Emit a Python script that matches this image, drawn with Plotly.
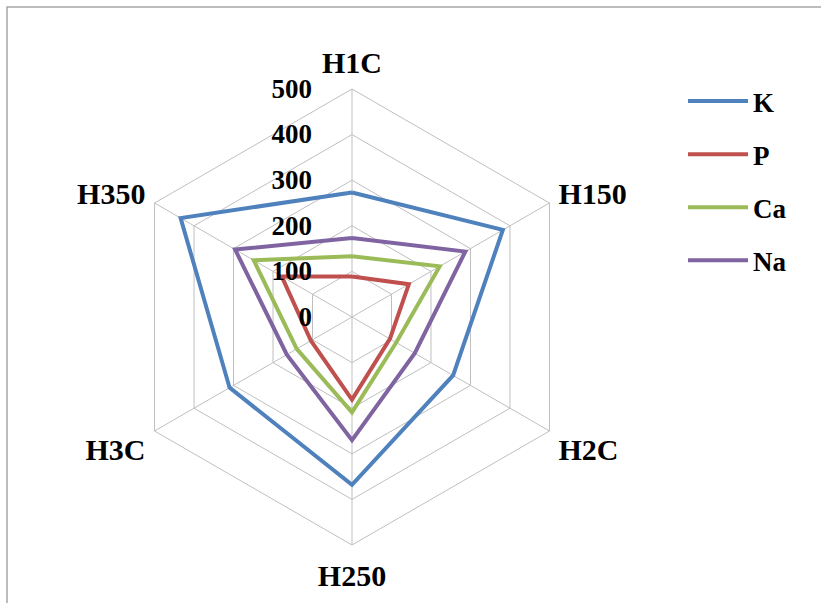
import plotly.graph_objects as go

# Sampling sites around the radar, clockwise from the top
sites = ["H1C", "H150", "H2C", "H250", "H3C", "H350"]

# Element concentrations at each site
k_vals = [273, 382, 256, 368, 310, 434]
p_vals = [89, 144, 96, 181, 104, 178]
ca_vals = [133, 222, 112, 209, 140, 249]
na_vals = [173, 287, 159, 270, 165, 296]

radial_ticks = [0, 100, 200, 300, 400, 500]

series = [
    ("K", k_vals, "#4F81BD"),
    ("P", p_vals, "#C0504D"),
    ("Ca", ca_vals, "#9BBB59"),
    ("Na", na_vals, "#8064A2"),
]

W, H = 821, 603
cx, cy, R = 352, 317, 228

fig = go.Figure()
for i, (name, vals, color) in enumerate(series):
    fig.add_trace(go.Scatterpolar(
        r=vals + vals[:1],
        theta=sites + sites[:1],
        mode="lines",
        name=name,
        legendgroup=name,
        line=dict(color=color, width=4),
    ))

font_family = "Liberation Serif"
grid_color = "#BFBFBF"

fig.update_layout(
    width=W,
    height=H,
    margin=dict(l=0, r=0, t=0, b=0),
    paper_bgcolor="white",
    plot_bgcolor="white",
    font=dict(family=font_family, color="black"),
    polar=dict(
        domain=dict(
            x=[(cx - R) / W, (cx + R) / W],
            y=[(H - (cy + R)) / H, (H - (cy - R)) / H],
        ),
        bgcolor="white",
        gridshape="linear",
        angularaxis=dict(
            rotation=90,
            direction="clockwise",
            showline=True,
            linecolor=grid_color,
            linewidth=1,
            gridcolor=grid_color,
            gridwidth=1,
            ticks="outside",
            ticklen=4,
            tickcolor="rgba(0,0,0,0)",
            tickfont=dict(family=font_family, size=30, color="black", weight="bold"),
        ),
        radialaxis=dict(
            range=[0, 500],
            tickvals=radial_ticks,
            angle=90,
            side="counterclockwise",
            tickangle=90,
            showline=False,
            gridcolor=grid_color,
            gridwidth=1,
            ticks="outside",
            ticklen=30,
            tickcolor="rgba(0,0,0,0)",
            tickfont=dict(family=font_family, size=27, color="black", weight="bold"),
        ),
    ),
    legend=dict(
        x=683 / W,
        y=1 - 77 / H,
        xanchor="left",
        yanchor="top",
        itemwidth=60,
        font=dict(family=font_family, size=27, color="black", weight="bold"),
        tracegroupgap=15,
        bgcolor="rgba(0,0,0,0)",
    ),
    shapes=[
        dict(
            type="rect",
            xref="paper",
            yref="paper",
            x0=7 / W,
            x1=1.05,
            y0=-0.05,
            y1=1 - 7 / H,
            line=dict(color="#A6A6A6", width=1.5),
            fillcolor="rgba(0,0,0,0)",
            layer="below",
        )
    ],
)

fig.write_html("out.html")
